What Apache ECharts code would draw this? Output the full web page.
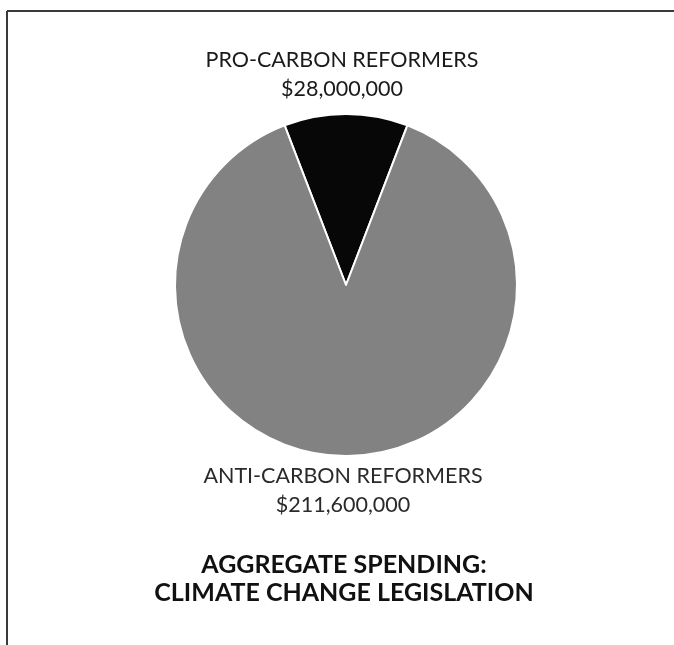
<!DOCTYPE html>
<html>
<head>
<meta charset="utf-8">
<script src="https://cdn.jsdelivr.net/npm/echarts@6/dist/echarts.min.js"></script>
<style>
html,body{margin:0;padding:0;background:#fff;}
#chart{width:674px;height:645px;}
</style>
</head>
<body>
<div id="chart"></div>
<script>
const categories = ["PRO-CARBON REFORMERS", "ANTI-CARBON REFORMERS"];
const amounts = [28000000, 211600000];
const sliceColors = ["#070707", "#828282"];
const titleLines = ["AGGREGATE SPENDING:", "CLIMATE CHANGE LEGISLATION"];

const fmt = v => "$" + v.toLocaleString("en-US");
const total = amounts.reduce((a, b) => a + b, 0);
const firstAngle = amounts[0] / total * 360;

const chart = echarts.init(document.getElementById("chart"));
const font = "Lato, 'Open Sans', sans-serif";
function txt(s, x, y, size, weight, color) {
  return { type: "text", x: x, y: y, silent: true,
    style: { text: s, align: "center", verticalAlign: "middle", fontFamily: font, fontSize: size, fontWeight: weight, fill: color } };
}
chart.setOption({
  backgroundColor: "#ffffff",
  animation: false,
  graphic: [
    { type: "line", shape: { x1: 7, y1: 11, x2: 674, y2: 11 }, style: { stroke: "#3a3a3a", lineWidth: 2 } },
    { type: "line", shape: { x1: 7, y1: 11, x2: 7, y2: 645 }, style: { stroke: "#3a3a3a", lineWidth: 2 } },
    txt(categories[0], 342, 60, 21.5, "normal", "#1a1a1a"),
    txt(fmt(amounts[0]), 342, 89, 21.5, "normal", "#1a1a1a"),
    txt(categories[1], 343, 476, 21.5, "normal", "#2a2a2a"),
    txt(fmt(amounts[1]), 343, 505, 21.5, "normal", "#2a2a2a"),
    txt(titleLines[0], 344, 565, 25, "bold", "#111111"),
    txt(titleLines[1], 344, 593, 25, "bold", "#111111")
  ],
  series: [{
    type: "pie",
    center: [346, 285],
    radius: [0, 171],
    startAngle: 90 + firstAngle / 2,
    clockwise: true,
    label: { show: false },
    labelLine: { show: false },
    emphasis: { disabled: true },
    itemStyle: { borderColor: "#ffffff", borderWidth: 2 },
    data: categories.map((c, i) => ({ name: c, value: amounts[i], itemStyle: { color: sliceColors[i] } }))
  }]
});
</script>
</body>
</html>
